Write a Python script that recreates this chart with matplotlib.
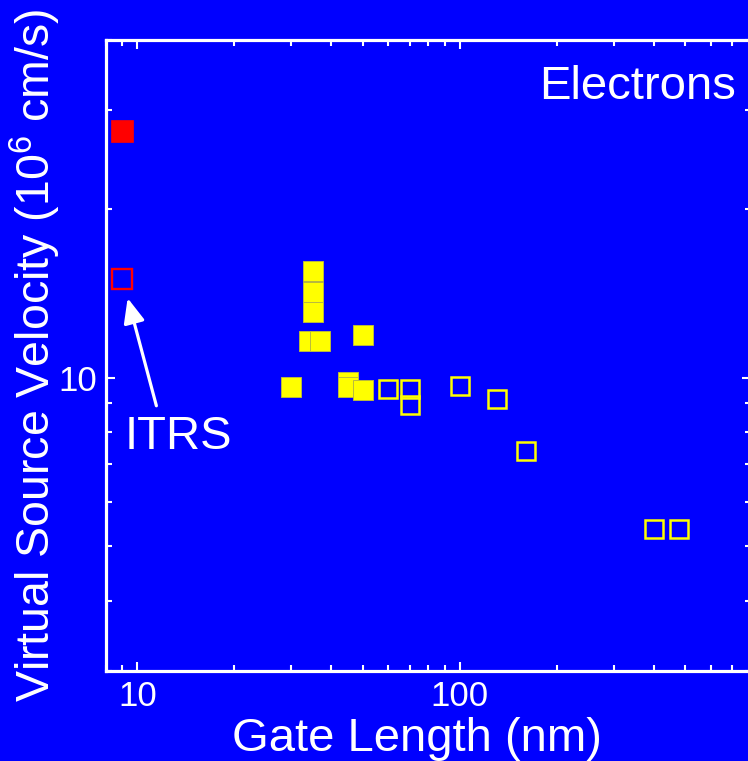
import numpy as np
import matplotlib
matplotlib.use("Agg")
import matplotlib.pyplot as plt
from matplotlib.ticker import LogLocator, NullFormatter, FuncFormatter

plt.rcParams['font.family'] = ['Liberation Sans', 'DejaVu Sans']
plt.rcParams['mathtext.fontset'] = 'custom'
plt.rcParams['mathtext.rm'] = 'Liberation Sans'

# Virtual source velocity vs gate length (electrons)
filled_len = [30, 35, 35, 35, 34, 37, 45, 45, 50, 50]
filled_vel = [9.6, 15.5, 14.2, 13.1, 11.6, 11.6, 9.8, 9.6, 9.5, 11.9]

open_len = [60, 70, 70, 100, 130, 160, 400, 480]
open_vel = [9.55, 9.55, 8.95, 9.65, 9.15, 7.4, 5.37, 5.37]

# ITRS projections
itrs_len = [9, 9]
itrs_vel = [27.5, 15.0]

BLUE = '#0000FF'
YELLOW = '#FFFF00'
RED = '#FF0000'
WHITE = 'white'

fig = plt.figure(figsize=(7.48, 7.61), dpi=100, facecolor=BLUE)
W, H = 748, 761
ax = fig.add_axes([106 / W, (H - 670.7) / H, 645 / W, 630.7 / H])
ax.set_facecolor(BLUE)

ax.set_xscale('log')
ax.set_yscale('log')
ax.set_xlim(8, 800)
ax.set_ylim(3, 40)

ax.plot(filled_len, filled_vel, ls='none', marker='s', ms=14.3, mfc=YELLOW,
        mec='#b8b840', mew=0.7, zorder=3)
ax.plot(open_len, open_vel, ls='none', marker='s', ms=12.4, mfc='none',
        mec=YELLOW, mew=1.8, zorder=3)
ax.plot(itrs_len[0], itrs_vel[0], ls='none', marker='s', ms=15.8, mfc=RED,
        mec=RED, mew=0.5, zorder=3)
ax.plot(itrs_len[1], itrs_vel[1], ls='none', marker='s', ms=14, mfc='none',
        mec=RED, mew=1.7, zorder=3)

# arrow + label for the ITRS point
ax.annotate('', xy=(itrs_len[1], itrs_vel[1]), xytext=(24.4, -91.4),
            textcoords='offset points',
            arrowprops=dict(arrowstyle='-|>,head_length=0.75,head_width=0.32',
                            color=WHITE, lw=2.3, mutation_scale=20,
                            shrinkA=0, shrinkB=14.4))
ax.annotate('ITRS', xy=(itrs_len[1], itrs_vel[1]), xytext=(1.6, -122.7),
            textcoords='offset points', ha='left', va='baseline',
            color=WHITE, fontsize=34)

ax.text(0.976, 0.9065, 'Electrons', transform=ax.transAxes, ha='right',
        va='baseline', color=WHITE, fontsize=34)

for side in ax.spines.values():
    side.set_color(WHITE)
    side.set_linewidth(2.3)

for axis in (ax.xaxis, ax.yaxis):
    axis.set_major_locator(LogLocator(base=10))
    axis.set_minor_locator(LogLocator(base=10, subs=np.arange(2, 10)))
    axis.set_major_formatter(FuncFormatter(lambda v, p: '%g' % v))
    axis.set_minor_formatter(NullFormatter())

ax.tick_params(which='both', direction='in', top=True, right=True,
               colors=WHITE, labelsize=25, pad=6.5)
ax.tick_params(which='major', length=6.5, width=1.5)
ax.tick_params(which='minor', length=4, width=1.5)

ax.set_xlabel('Gate Length (nm)', color=WHITE, fontsize=34)
ax.xaxis.label.set_va('baseline')
ax.xaxis.set_label_coords(0.4814, -0.1273)

ax.set_ylabel(r'Virtual Source Velocity (10$^{\mathregular{6}}$ cm/s)',
              color=WHITE, fontsize=33.5)
ax.yaxis.set_label_coords(-0.066, 0.5)

fig.savefig('out.png', dpi=100, facecolor=BLUE)
